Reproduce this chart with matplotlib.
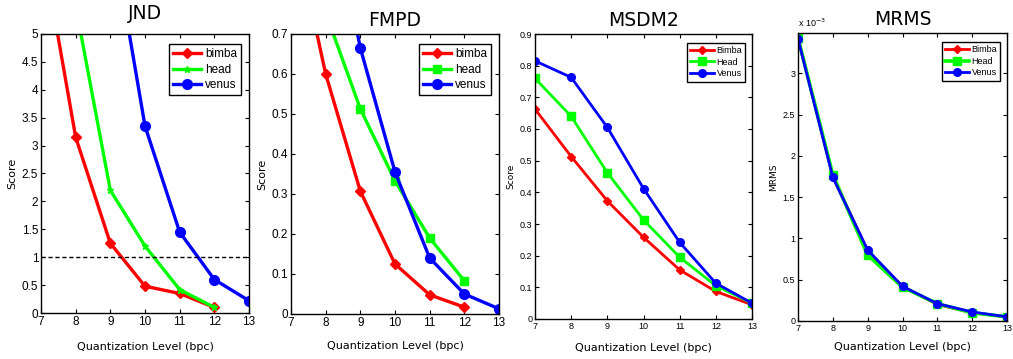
import matplotlib
matplotlib.use("Agg")
import matplotlib.pyplot as plt

# ---------------- data ----------------
levels = [7, 8, 9, 10, 11, 12, 13]

jnd_bimba_x = [7, 8, 9, 10, 11, 12]
jnd_bimba = [6.7, 3.15, 1.25, 0.48, 0.35, 0.10]
jnd_head_x = [8, 9, 10, 11, 12]
jnd_head = [5.5, 2.2, 1.2, 0.42, 0.10]
jnd_venus_x = [9, 10, 11, 12, 13]
jnd_venus = [7.0, 3.35, 1.45, 0.60, 0.22]
jnd_threshold = 1.0

fmpd_bimba_x = [7, 8, 9, 10, 11, 12]
fmpd_bimba = [1.0, 0.60, 0.307, 0.125, 0.048, 0.017]
fmpd_head_x = [8, 9, 10, 11, 12]
fmpd_head = [0.753, 0.513, 0.333, 0.19, 0.083]
fmpd_venus_x = [8, 9, 10, 11, 12, 13]
fmpd_venus = [1.1, 0.665, 0.355, 0.14, 0.05, 0.013]

msdm_bimba = [0.663, 0.513, 0.373, 0.258, 0.155, 0.087, 0.045]
msdm_head = [0.76, 0.64, 0.462, 0.313, 0.195, 0.105, 0.05]
msdm_venus = [0.815, 0.763, 0.605, 0.412, 0.242, 0.113, 0.05]

# MRMS values in units of 1e-3
mrms_bimba = [3.43, 1.75, 0.85, 0.42, 0.20, 0.10, 0.05]
mrms_head = [3.43, 1.77, 0.80, 0.41, 0.21, 0.10, 0.05]
mrms_venus = [3.42, 1.74, 0.86, 0.42, 0.21, 0.11, 0.05]

titles = ["JND", "FMPD", "MSDM2", "MRMS"]
labels_lower = ["bimba", "head", "venus"]
labels_upper = ["Bimba", "Head", "Venus"]

RED, GREEN, BLUE = "#ff0000", "#00ff00", "#0000ff"

W, H = 1013, 359
fig = plt.figure(figsize=(W / 100, H / 100), dpi=100)

def frac(l, r, t, b):
    return [l / W, (H - b) / H, (r - l) / W, (b - t) / H]

tickfont = ["Liberation Sans", "DejaVu Sans"]

def style(ax, tsize):
    ax.tick_params(direction="in", top=True, right=True, length=3, width=0.8,
                   labelsize=tsize, pad=2)
    for lab in ax.get_xticklabels() + ax.get_yticklabels():
        lab.set_family(tickfont)
    for s in ax.spines.values():
        s.set_linewidth(1.0)

def legend(ax, labs, fs, loc_bbox, hl=2.6):
    lg = ax.legend(labs, loc="upper right", bbox_to_anchor=loc_bbox, fancybox=False,
                   edgecolor="black", framealpha=1, handlelength=hl,
                   borderpad=0.35, labelspacing=0.3, handletextpad=0.3,
                   prop={"family": tickfont, "size": fs})
    lg.get_frame().set_linewidth(1.0)
    return lg

# ---- JND ----
ax1 = fig.add_axes(frac(41, 249, 34, 313))
ax1.plot(jnd_bimba_x, jnd_bimba, color=RED, lw=2.4, marker="D", ms=5.5)
ax1.plot(jnd_head_x, jnd_head, color=GREEN, lw=2.4, marker="*", ms=5)
ax1.plot(jnd_venus_x, jnd_venus, color=BLUE, lw=2.4, marker="o", ms=7)
ax1.axhline(jnd_threshold, color="black", lw=1.0, ls=(0, (3, 2)))
ax1.set_xlim(7, 13)
ax1.set_ylim(0, 5)
ax1.set_xticks(levels)
ax1.set_yticks([0, 0.5, 1, 1.5, 2, 2.5, 3, 3.5, 4, 4.5, 5])
ax1.set_yticklabels(["0", "0.5", "1", "1.5", "2", "2.5", "3", "3.5", "4", "4.5", "5"])
ax1.set_title(titles[0], fontsize=13.5, pad=11)
ax1.set_xlabel("Quantization Level (bpc)", fontsize=8, labelpad=10)
ax1.set_ylabel("Score", fontsize=8, labelpad=3)
style(ax1, 8.5)
legend(ax1, labels_lower, 8.5, (0.99, 0.985), hl=2.4)

# ---- FMPD ----
ax2 = fig.add_axes(frac(291, 499, 34, 314))
ax2.plot(fmpd_bimba_x, fmpd_bimba, color=RED, lw=2.4, marker="D", ms=5.5)
ax2.plot(fmpd_head_x, fmpd_head, color=GREEN, lw=2.4, marker="s", ms=6)
ax2.plot(fmpd_venus_x, fmpd_venus, color=BLUE, lw=2.4, marker="o", ms=7)
ax2.set_xlim(7, 13)
ax2.set_ylim(0, 0.7)
ax2.set_xticks(levels)
ax2.set_yticks([0, 0.1, 0.2, 0.3, 0.4, 0.5, 0.6, 0.7])
ax2.set_yticklabels(["0", "0.1", "0.2", "0.3", "0.4", "0.5", "0.6", "0.7"])
ax2.set_title(titles[1], fontsize=13.5, pad=6)
ax2.set_xlabel("Quantization Level (bpc)", fontsize=8, labelpad=9)
ax2.set_ylabel("Score", fontsize=8, labelpad=3)
style(ax2, 8.5)
legend(ax2, labels_lower, 8.5, (0.99, 0.985), hl=2.4)

# ---- MSDM2 ----
ax3 = fig.add_axes(frac(535, 752, 34, 319))
ax3.plot(levels, msdm_bimba, color=RED, lw=2.0, marker="D", ms=4.5)
ax3.plot(levels, msdm_head, color=GREEN, lw=2.0, marker="s", ms=5.5)
ax3.plot(levels, msdm_venus, color=BLUE, lw=2.0, marker="o", ms=5.5)
ax3.set_xlim(7, 13)
ax3.set_ylim(0, 0.9)
ax3.set_xticks(levels)
ax3.set_yticks([0, 0.1, 0.2, 0.3, 0.4, 0.5, 0.6, 0.7, 0.8, 0.9])
ax3.set_yticklabels(["0", "0.1", "0.2", "0.3", "0.4", "0.5", "0.6", "0.7", "0.8", "0.9"])
ax3.set_title(titles[2], fontsize=13.5, pad=6)
ax3.set_xlabel("Quantization Level (bpc)", fontsize=8, labelpad=9)
ax3.set_ylabel("Score", fontsize=6.5, labelpad=3)
style(ax3, 6.5)
legend(ax3, labels_upper, 6.5, (0.99, 0.985))

# ---- MRMS ----
ax4 = fig.add_axes(frac(798, 1007, 33, 321))
ax4.plot(levels, mrms_bimba, color=RED, lw=2.0, marker="D", ms=4.5)
ax4.plot(levels, mrms_head, color=GREEN, lw=2.6, marker="s", ms=6)
ax4.plot(levels, mrms_venus, color=BLUE, lw=2.0, marker="o", ms=5.5)
ax4.set_xlim(7, 13)
ax4.set_ylim(0, 3.49)
ax4.set_xticks(levels)
ax4.set_yticks([0, 0.5, 1, 1.5, 2, 2.5, 3])
ax4.set_yticklabels(["0", "0.5", "1", "1.5", "2", "2.5", "3"])
ax4.set_title(titles[3], fontsize=13.5, pad=6)
ax4.set_xlabel("Quantization Level (bpc)", fontsize=8, labelpad=7)
ax4.set_ylabel("MRMS", fontsize=6.5, labelpad=3)
ax4.text(0.0, 1.015, r"x 10$^{-3}$", transform=ax4.transAxes, fontsize=6.5,
         family=tickfont, ha="left", va="bottom")
style(ax4, 6.5)
legend(ax4, labels_upper, 6.5, (0.99, 0.985))

fig.savefig("out.png", dpi=100)
